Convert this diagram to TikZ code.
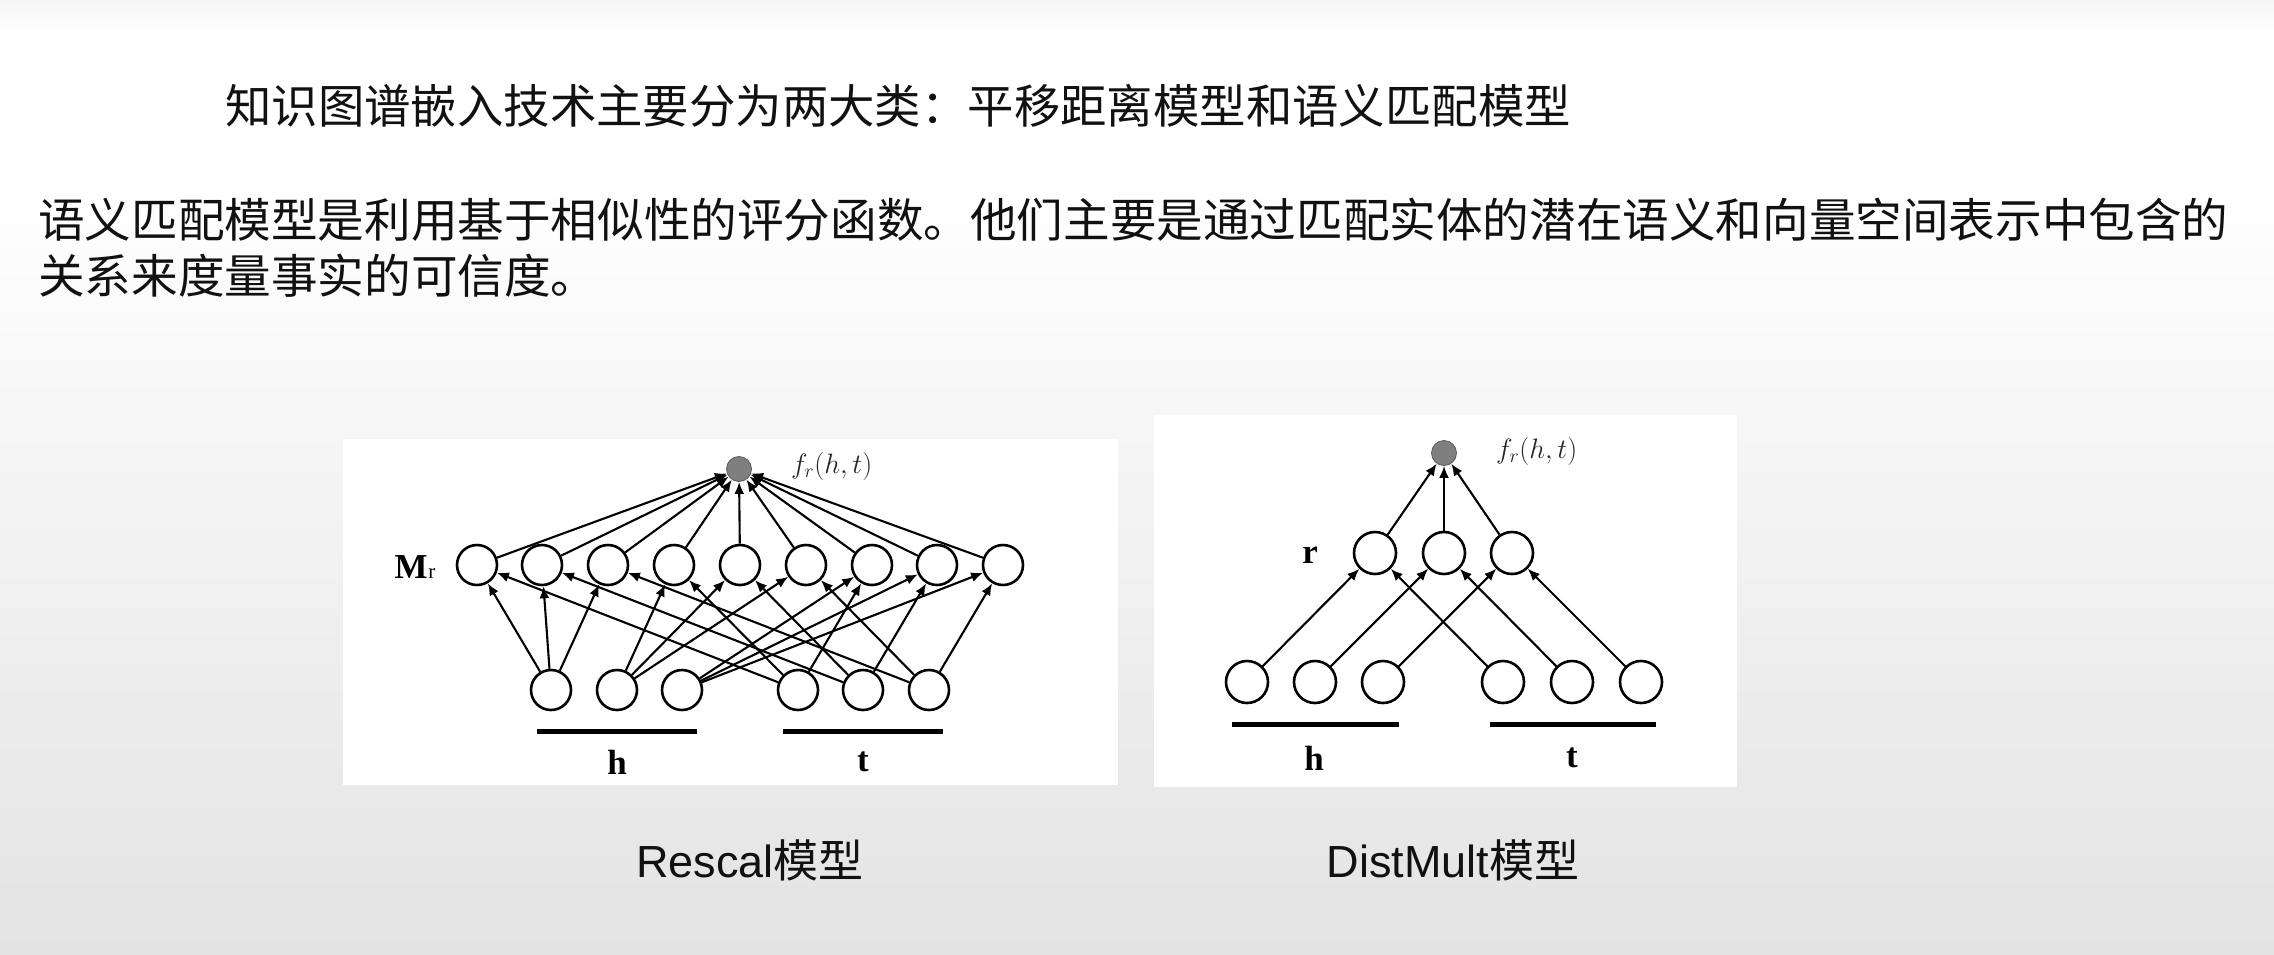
\RequirePackage{fix-cm}
\documentclass[tikz,border=0pt]{standalone}
\usepackage{fontspec}
\usetikzlibrary{arrows.meta}
\newfontfamily\cjk{Noto Sans CJK SC}
\newfontfamily\arl{Liberation Sans}
\newfontfamily\tms{Liberation Serif}
\definecolor{bgbot}{HTML}{E3E3E3}
\definecolor{bgtop}{HTML}{F5F5F5}
\definecolor{ink}{HTML}{111111}
\definecolor{outgray}{HTML}{7F7F7F}
\begin{document}
\begin{tikzpicture}[x=1pt,y=-1pt,
  neuron/.style={circle, draw=black, line width=2.6pt, minimum size=40pt, inner sep=0pt, fill=white},
  dneuron/.style={neuron, minimum size=42pt},
  outn/.style={circle, draw=outgray!70!black, fill=outgray, line width=0.8pt, minimum size=25pt, inner sep=0pt},
  edge/.style={line width=2.1pt, -{Latex[length=12pt,width=10pt]}},
  bar/.style={line width=5pt},
  cjktext/.style={font=\cjk\fontsize{46.4}{56}\selectfont, text=ink, inner sep=0pt, anchor=west},
  caption/.style={font=\fontsize{45}{50}\selectfont, text=ink, inner sep=0pt},
  vlabel/.style={font=\tms\bfseries\fontsize{35}{35}\selectfont, inner sep=0pt},
  flabel/.style={font=\fontsize{28}{28}\selectfont, inner sep=0pt, anchor=west, text=black!85}
]
\useasboundingbox (0,0) rectangle (2274,954);
% background
\fill[top color=bgtop, bottom color=white] (0,0) rectangle (2274,35);
\fill[white] (0,34) rectangle (2274,181);
\fill[top color=white, bottom color=bgbot] (0,180) rectangle (2274,954);

% texts
\node[cjktext] (title) at (225,106) {知识图谱嵌入技术主要分为两大类：平移距离模型和语义匹配模型};
\node[cjktext, font=\cjk\fontsize{46.6}{56}\selectfont] (p1) at (38,220) {语义匹配模型是利用基于相似性的评分函数。他们主要是通过匹配实体的潜在语义和向量空间表示中包含的};
\node[cjktext, font=\cjk\fontsize{46.6}{56}\selectfont] (p2) at (38,276) {关系来度量事实的可信度。};

% panels
\fill[white] (343,439) rectangle (1118,785);
\fill[white] (1154,415) rectangle (1737,787);

% ---------- Rescal ----------
\node[outn] (ro) at (739,469) {};
\node[flabel] (rf) at (791,466) {$f_r(h,t)$};
\foreach \i/\x in {1/477,2/542,3/608,4/674,5/740,6/806,7/872,8/937,9/1003}{
  \node[neuron] (m\i) at (\x,565) {};
}
\foreach \i/\x in {1/551,2/617,3/682}{
  \node[neuron] (h\i) at (\x,690) {};
}
\foreach \i/\x in {1/798,2/863,3/929}{
  \node[neuron] (t\i) at (\x,690) {};
}
\node[vlabel] (mlab) at (415,567) {M\kern0.5pt{\mdseries\fontsize{21}{21}\selectfont r}};
\foreach \i in {1,...,9}{ \draw[edge] (m\i) -- (ro); }
\foreach \a/\b/\c/\d in {1/1/2/3,2/4/5/6,3/7/8/9}{
  \draw[edge] (h\a) -- (m\b);
  \draw[edge] (h\a) -- (m\c);
  \draw[edge] (h\a) -- (m\d);
}
\foreach \a/\b/\c/\d in {1/1/4/7,2/2/5/8,3/3/6/9}{
  \draw[edge] (t\a) -- (m\b);
  \draw[edge] (t\a) -- (m\c);
  \draw[edge] (t\a) -- (m\d);
}
\coordinate (rhb1) at (537,731); \coordinate (rhb2) at (697,731);
\coordinate (rtb1) at (783,731); \coordinate (rtb2) at (943,731);
\draw[bar] (rhb1) -- (rhb2);
\draw[bar] (rtb1) -- (rtb2);
\node[vlabel] (rh) at (617,762) {h};
\node[vlabel] (rt) at (863,762) {t};

% ---------- DistMult ----------
\node[outn] (dout) at (1444,453) {};
\node[flabel] (df) at (1496,451) {$f_r(h,t)$};
\foreach \i/\x in {1/1375,2/1444,3/1512}{
  \node[dneuron] (r\i) at (\x,553) {};
}
\foreach \i/\x in {1/1247,2/1315,3/1383}{
  \node[dneuron] (dh\i) at (\x,682) {};
}
\foreach \i/\x in {1/1503,2/1572,3/1641}{
  \node[dneuron] (dt\i) at (\x,682) {};
}
\node[vlabel] (rlab) at (1310,555) {r};
\foreach \i in {1,2,3}{
  \draw[edge] (r\i) -- (dout);
  \draw[edge] (dh\i) -- (r\i);
  \draw[edge] (dt\i) -- (r\i);
}
\coordinate (dhb1) at (1232,724); \coordinate (dhb2) at (1399,724);
\coordinate (dtb1) at (1490,724); \coordinate (dtb2) at (1656,724);
\draw[bar] (dhb1) -- (dhb2);
\draw[bar] (dtb1) -- (dtb2);
\node[vlabel] (dhl) at (1314,758) {h};
\node[vlabel] (dtl) at (1572,758) {t};

% captions
\node[caption] (cap1) at (750,860) {{\arl Rescal}{\cjk 模型}};
\node[caption] (cap2) at (1453,860) {{\arl DistMult}{\cjk 模型}};
\end{tikzpicture}
\end{document}
